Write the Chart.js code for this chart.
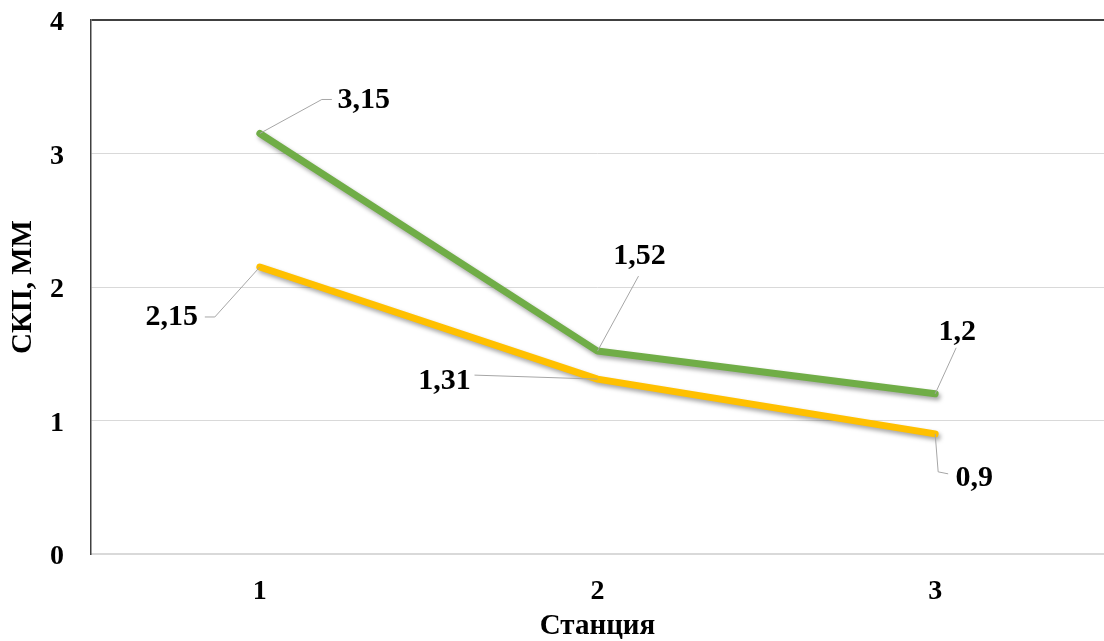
<!DOCTYPE html>
<html>
<head>
<meta charset="utf-8">
<script src="https://cdn.jsdelivr.net/npm/chart.js@4.4.1/dist/chart.umd.min.js"></script>
<style>
  html, body { margin: 0; padding: 0; background: #ffffff; }
  #wrap { width: 1104px; height: 641px; position: relative; }
</style>
</head>
<body>
<div id="wrap"><canvas id="chart"></canvas></div>
<script>
// Станции и значения СКП (мм)
const stations = ['1', '2', '3'];
const seriesGreen = [3.15, 1.52, 1.2];
const seriesYellow = [2.15, 1.31, 0.9];
const yTicks = [0, 1, 2, 3, 4];

// Смещения подписей относительно точек: [dx, dy] центра текста и излом выноски
const greenLabelLayout = [
  { dx: 104, dy: -33, elbow: [62, -34], end: [72, -34] },
  { dx: 42, dy: -95, elbow: [41, -75], end: [41, -75] },
  { dx: 22, dy: -62, elbow: [21, -46], end: [21, -46] }
];
const yellowLabelLayout = [
  { dx: -88, dy: 50, elbow: [-45, 50], end: [-55, 50] },
  { dx: -153, dy: 2, elbow: [-123, -4], end: [-123, -4] },
  { dx: 39, dy: 44, elbow: [3, 38], end: [13, 40] }
];

const FONT = '"Liberation Serif", "Times New Roman", serif';

const fmt = v => String(v).replace('.', ',');

// Тень под линиями
const lineShadow = {
  id: 'lineShadow',
  beforeDatasetDraw(chart) {
    const ctx = chart.ctx;
    ctx.save();
    ctx.shadowColor = 'rgba(0,0,0,0.35)';
    ctx.shadowBlur = 4;
    ctx.shadowOffsetX = 2;
    ctx.shadowOffsetY = 3;
  },
  afterDatasetDraw(chart) {
    chart.ctx.restore();
  }
};

// Подписи значений с выносками
const valueLabels = {
  id: 'valueLabels',
  afterDatasetsDraw(chart) {
    const ctx = chart.ctx;
    const layouts = [greenLabelLayout, yellowLabelLayout];
    chart.data.datasets.forEach((ds, di) => {
      const meta = chart.getDatasetMeta(di);
      meta.data.forEach((pt, i) => {
        const L = layouts[di][i];
        const x = pt.x, y = pt.y;
        ctx.save();
        ctx.strokeStyle = '#a6a6a6';
        ctx.lineWidth = 1;
        ctx.beginPath();
        ctx.moveTo(x, y);
        ctx.lineTo(x + L.elbow[0], y + L.elbow[1]);
        ctx.lineTo(x + L.end[0], y + L.end[1]);
        ctx.stroke();
        ctx.fillStyle = '#000000';
        ctx.font = 'bold 30px ' + FONT;
        ctx.textAlign = 'center';
        ctx.textBaseline = 'middle';
        ctx.fillText(fmt(ds.data[i]), x + L.dx, y + L.dy);
        ctx.restore();
      });
    });
  }
};

new Chart(document.getElementById('chart'), {
  type: 'line',
  data: {
    labels: stations,
    datasets: [
      {
        label: 'Ряд 1',
        data: seriesGreen,
        borderColor: '#70ad47',
        borderWidth: 7,
        borderCapStyle: 'round',
        borderJoinStyle: 'round',
        pointRadius: 0,
        tension: 0
      },
      {
        label: 'Ряд 2',
        data: seriesYellow,
        borderColor: '#ffc000',
        borderWidth: 7,
        borderCapStyle: 'round',
        borderJoinStyle: 'round',
        pointRadius: 0,
        tension: 0
      }
    ]
  },
  options: {
    responsive: true,
    maintainAspectRatio: false,
    animation: false,
    layout: { padding: { top: 0, right: 0, left: 0, bottom: 0 } },
    plugins: {
      legend: { display: false },
      tooltip: { enabled: false }
    },
    scales: {
      x: {
        offset: true,
        grid: { display: false, drawTicks: false },
        border: { display: true, color: '#d9d9d9', width: 2 },
        ticks: {
          color: '#000000',
          padding: 21,
          font: { family: FONT, size: 28, weight: 'bold' }
        },
        title: {
          display: true,
          text: 'Станция',
          color: '#000000',
          padding: { top: 4, bottom: -3 },
          font: { family: FONT, size: 29, weight: 'bold' }
        },
        afterFit(scale) {
          scale.height = 87;
          scale.paddingLeft = 0;
          scale.paddingRight = 0;
        }
      },
      y: {
        min: 0,
        max: 4,
        afterBuildTicks(scale) { scale.ticks = yTicks.map(v => ({ value: v })); },
        grid: {
          drawTicks: false,
          color: ctx => (ctx.tick && ctx.tick.value === 4) ? '#404040' : (ctx.tick && ctx.tick.value === 0 ? 'rgba(0,0,0,0)' : '#d9d9d9'),
          lineWidth: ctx => (ctx.tick && ctx.tick.value === 4) ? 2 : 1
        },
        border: { display: true, color: '#404040', width: 1.5 },
        ticks: {
          color: '#000000',
          padding: 27,
          labelOffset: 3,
          font: { family: FONT, size: 28, weight: 'bold' }
        },
        title: {
          display: true,
          text: 'СКП, ММ',
          color: '#000000',
          padding: { top: 6, bottom: 0 },
          font: { family: FONT, size: 29, weight: 'bold' }
        },
        afterFit(scale) {
          scale.width = 91;
          scale.paddingTop = 20;
          scale.paddingBottom = 0;
        }
      }
    }
  },
  plugins: [lineShadow, valueLabels]
});
</script>
</body>
</html>
